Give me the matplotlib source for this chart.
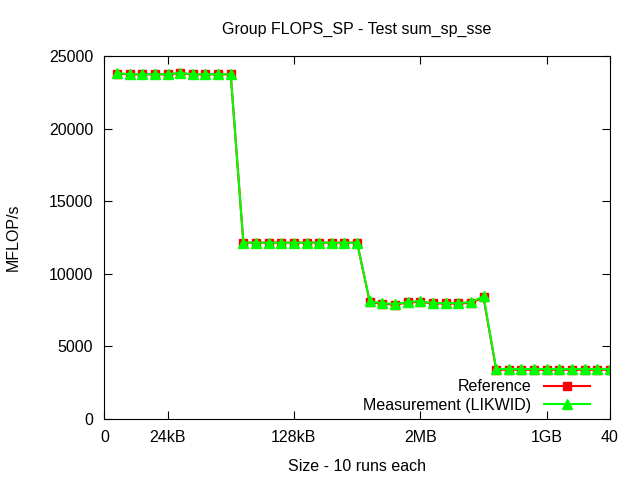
import numpy as np
import matplotlib.pyplot as plt

plt.rcParams['font.family'] = ['Liberation Sans', 'DejaVu Sans']

# run index (1..40) and measured values
x = np.arange(1, 41)
reference = [23800, 23750, 23750, 23750, 23750, 23820, 23750, 23750, 23750, 23750,
             12150, 12150, 12150, 12150, 12150, 12150, 12150, 12150, 12150, 12150,
             8050, 7950, 7880, 8030, 8080, 7960, 7960, 7960, 8000, 8380,
             3400, 3400, 3400, 3400, 3400, 3400, 3400, 3400, 3400, 3400]
measurement = [23850, 23750, 23750, 23750, 23750, 23850, 23750, 23750, 23750, 23750,
               12150, 12150, 12150, 12150, 12150, 12150, 12150, 12150, 12150, 12150,
               8100, 7990, 7920, 8060, 8130, 7990, 7990, 7990, 8060, 8450,
               3450, 3450, 3450, 3450, 3450, 3450, 3450, 3450, 3450, 3450]

xticks = [0, 5, 15, 25, 35, 40]
xtick_labels = ["0", "24kB", "128kB", "2MB", "1GB", "40"]
yticks = [0, 5000, 10000, 15000, 20000, 25000]

fig = plt.figure(figsize=(6.4, 4.8), dpi=100)
ax = fig.add_axes([0.163, 0.127, 0.790, 0.756])

ax.plot(x, reference, color="#ff0000", lw=1.5, marker="s", ms=6, label="Reference")
ax.plot(x, measurement, color="#00ff00", lw=1.5, marker="^", ms=7, label="Measurement (LIKWID)")

ax.set_xlim(0, 40)
ax.set_ylim(0, 25000)
ax.set_xticks(xticks)
ax.set_xticklabels(xtick_labels)
ax.set_yticks(yticks)
ax.tick_params(direction="in", top=True, right=True, labelsize=11.5, length=6, pad=8)

ax.set_title("Group FLOPS_SP - Test sum_sp_sse", fontsize=11.5, pad=16)
ax.set_xlabel("Size - 10 runs each", fontsize=11.5, labelpad=10)
ax.set_ylabel("MFLOP/s", fontsize=11.5, labelpad=20)

ax.legend(loc="lower right", bbox_to_anchor=(0.973, 0.0), frameon=False,
          markerfirst=False, fontsize=11.5, handlelength=2.9, handletextpad=0.75,
          labelspacing=0.2, borderaxespad=0)

fig.savefig("out.png", dpi=100)
